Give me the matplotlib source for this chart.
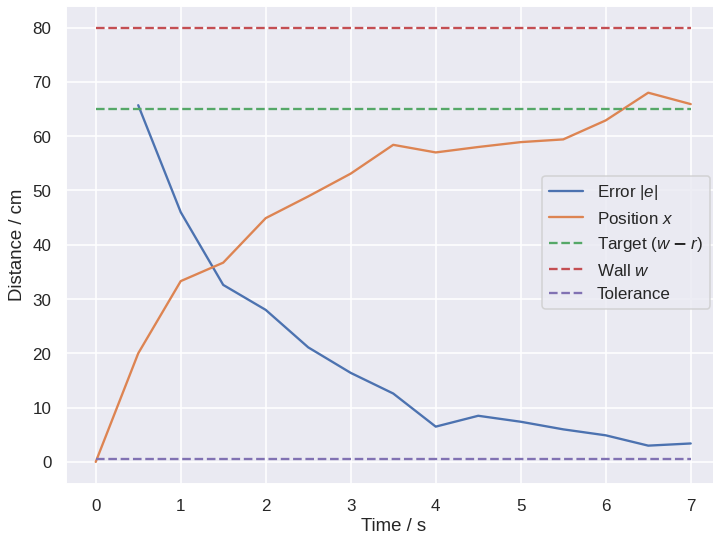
import numpy as np
import matplotlib
matplotlib.use("Agg")
import matplotlib.pyplot as plt
import seaborn as sns

sns.set_theme()
plt.rcParams["font.family"] = ["Liberation Sans", "DejaVu Sans"]
plt.rcParams["mathtext.fontset"] = "custom"
plt.rcParams["mathtext.rm"] = "Liberation Sans"
plt.rcParams["mathtext.it"] = "Liberation Sans:italic"

t_err = [0.5, 1, 1.5, 2, 2.5, 3, 3.5, 4, 4.5, 5, 5.5, 6, 6.5, 7]
err = [65.7, 46.0, 32.6, 28.0, 21.1, 16.4, 12.6, 6.5, 8.5, 7.4, 6.0, 4.9, 3.0, 3.4]

t_pos = [0, 0.5, 1, 1.5, 2, 2.5, 3, 3.5, 4, 4.5, 5, 5.5, 6, 6.5, 7]
pos = [0, 20.0, 33.3, 36.7, 44.9, 48.9, 53.1, 58.4, 57.0, 58.0, 58.9, 59.4, 62.9, 68.0, 65.9]

wall = 80
target = 65
tolerance = 0.5
t_span = [0, 7]

fig = plt.figure(figsize=(6.4, 4.8), dpi=111.56)
# axes runs a little past the right edge, like the original crop
ax = fig.add_axes([0.0924, 0.0959, 0.9167, 0.8923])
ax.plot(t_err, err, label=r"Error $|e|$")
ax.plot(t_pos, pos, label=r"Position $x$")
ax.plot(t_span, [target, target], "--", label=r"Target $(w\;\mathbf{-}\;r)$")
ax.plot(t_span, [wall, wall], "--", label=r"Wall $w$")
ax.plot(t_span, [tolerance, tolerance], "--", label="Tolerance")
ax.set_xlim(-0.35, 7.35)
ax.set_ylim(-4, 84)
ax.set_xlabel("Time / s", labelpad=2.5)
ax.set_ylabel("Distance / cm")
ax.legend(loc="center right", bbox_to_anchor=(0.9944, 0.5467),
          bbox_transform=fig.transFigure, borderaxespad=0)
fig.savefig("out.png")
